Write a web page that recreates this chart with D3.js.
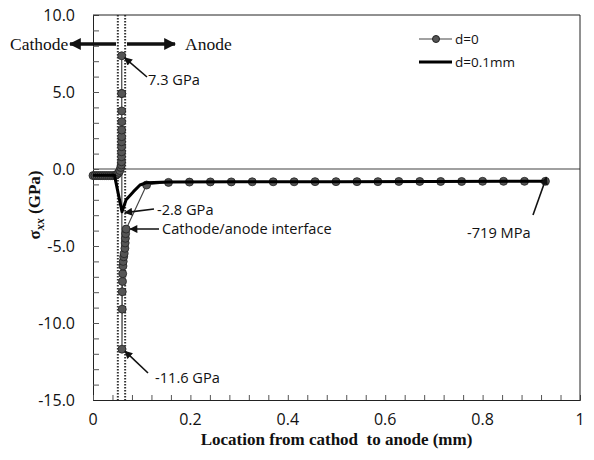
<!DOCTYPE html>
<html><head><meta charset="utf-8">
<script src="https://cdn.jsdelivr.net/npm/d3@7"></script>
<style>body{margin:0;background:#fff}svg{display:block}</style>
</head><body>
<script>
// ---- data ----
const seriesNames = ["d=0", "d=0.1mm"];
const d0X = [0.000,0.004,0.008,0.012,0.016,0.020,0.024,0.028,0.032,0.036,0.040,0.044,
  0.047,0.050,0.053,0.055,0.057,0.058,0.0585,0.0586,0.0587,0.0588,0.0588,0.0589,0.0589,0.059,0.059,0.059,0.059,0.059,
  0.0595,0.060,0.060,0.0605,0.061,0.0615,0.062,0.063,0.064,0.0655,0.066,0.0665,0.067,0.068,
  0.110,0.155,0.198,0.241,0.284,0.327,0.370,0.413,0.456,0.499,0.542,0.585,0.628,0.671,0.714,0.757,0.800,0.843,0.886,0.929];
const d0Y = [-0.43,-0.43,-0.43,-0.43,-0.43,-0.43,-0.43,-0.43,-0.43,-0.43,-0.43,-0.43,
  -0.40,-0.33,-0.22,-0.10,0.10,0.26,0.47,0.80,1.12,1.45,1.77,2.10,2.53,3.07,3.77,4.90,4.90,7.35,
  -11.7,-9.1,-7.97,-7.3,-6.8,-6.3,-6.0,-5.7,-5.5,-5.15,-4.8,-4.5,-4.2,-3.9,
  -1.04,-0.87,-0.85,-0.84,-0.84,-0.83,-0.83,-0.83,-0.82,-0.82,-0.82,-0.82,-0.81,-0.81,-0.81,-0.81,-0.80,-0.80,-0.80,-0.80];
const d01X = [0.000,0.044,0.0595,0.068,0.083,0.0965,0.110,0.155,0.300,0.500,0.700,0.929];
const d01Y = [-0.40,-0.40,-2.77,-2.00,-1.47,-1.04,-0.89,-0.85,-0.83,-0.82,-0.81,-0.79];
const xTickLabels = [0,0.2,0.4,0.6,0.8,1];
const yTickLabels = [-15,-10,-5,0,5,10];
const interfaceX = [0.051,0.066];
const annotations = [
  {text:"7.3 GPa", x:0.059, y:7.35},
  {text:"-2.8 GPa", x:0.0595, y:-2.77},
  {text:"Cathode/anode interface", x:0.066, y:-3.9},
  {text:"-11.6 GPa", x:0.0595, y:-11.7},
  {text:"-719 MPa", x:0.929, y:-0.80}
];

// ---- layout ----
const W=594,H=460;
const L=93,R=580,T=15,B=400;
const svg=d3.select("body").append("svg").attr("width",W).attr("height",H);
const x=d3.scaleLinear().domain([0,1]).range([L,R]);
const y=d3.scaleLinear().domain([-15,10]).range([B,T]);
const sans="'Open Sans', Lato, sans-serif";
const serif="'Liberation Serif','DejaVu Serif',serif";

const defs=svg.append("defs");
function marker(id,w,h){
  defs.append("marker").attr("id",id).attr("viewBox","0 0 10 10").attr("refX",9).attr("refY",5)
   .attr("markerWidth",w).attr("markerHeight",h).attr("orient","auto").attr("markerUnits","userSpaceOnUse")
   .append("path").attr("d","M0,0L10,5L0,10z").attr("fill","#111");
}
marker("ah",9,8);
marker("big",12,13);

// zero line
svg.append("line").attr("x1",L).attr("x2",R).attr("y1",y(0)).attr("y2",y(0))
  .attr("stroke","#808080").attr("stroke-width",1.5);

// interface dotted lines
interfaceX.forEach(v=>{
  svg.append("line").attr("x1",x(v)).attr("x2",x(v)).attr("y1",T).attr("y2",B)
   .attr("stroke","#333").attr("stroke-width",2).attr("stroke-dasharray","1.5,1.5");
});

// axes
const yAx=d3.axisLeft(y).tickValues(d3.range(-15,10.01,1)).tickSize(-6).tickFormat("");
svg.append("g").attr("transform",`translate(${L},0)`).call(yAx)
  .call(g=>{g.select(".domain").attr("stroke","#222");g.selectAll("line").attr("stroke","#555");});
const xAx=d3.axisBottom(x).tickValues(d3.range(0,1.001,0.04)).tickSize(-5).tickFormat("");
svg.append("g").attr("transform",`translate(0,${B})`).call(xAx)
  .call(g=>{g.select(".domain").attr("stroke","#222");g.selectAll("line").attr("stroke","#555");});
// frame
svg.append("line").attr("x1",L).attr("x2",R).attr("y1",T).attr("y2",T).attr("stroke","#222");
svg.append("line").attr("x1",R).attr("x2",R).attr("y1",T).attr("y2",B).attr("stroke","#222");

// tick labels
const fmt=d=>d3.format(".1f")(d).replace("\u2212","-");
svg.append("g").selectAll("text").data(yTickLabels).join("text")
  .attr("x",L-18).attr("y",d=>y(d)).attr("dy","0.35em").attr("text-anchor","end")
  .attr("font-family",sans).attr("font-size",16).attr("fill","#111").text(fmt);
svg.append("g").selectAll("text").data(xTickLabels).join("text")
  .attr("x",d=>x(d)).attr("y",B+19).attr("dy","0.35em").attr("text-anchor","middle")
  .attr("font-family",sans).attr("font-size",16).attr("fill","#111").text(d=>String(d));

// axis titles
svg.append("text").attr("x",(L+R)/2).attr("y",445).attr("text-anchor","middle")
  .attr("font-family",serif).attr("font-weight","bold").attr("font-size",17).attr("fill","#111")
  .style("white-space","pre")
  .text("Location from cathod  to anode (mm)");
const yt=svg.append("text").attr("transform","translate(40,205) rotate(-90)").attr("text-anchor","middle")
  .attr("font-family",serif).attr("font-weight","bold").attr("font-size",17).attr("fill","#111");
yt.append("tspan").text("σ");
yt.append("tspan").attr("font-style","italic").attr("font-size",12).attr("dy",4).text("xx");
yt.append("tspan").attr("dy",-4).text(" (GPa)");

// series
const ptsD0=d0X.map((v,i)=>[v,d0Y[i]]);
const ptsD01=d01X.map((v,i)=>[v,d01Y[i]]);
const line=d3.line().x(d=>x(d[0])).y(d=>y(d[1]));
svg.append("path").attr("d",line(ptsD0)).attr("fill","none").attr("stroke","#444").attr("stroke-width",1.2);
svg.append("g").selectAll("circle").data(ptsD0).join("circle")
  .attr("cx",d=>x(d[0])).attr("cy",d=>y(d[1])).attr("r",4)
  .attr("fill","#555").attr("stroke","#222").attr("stroke-width",0.8);
svg.append("path").attr("d",line(ptsD01)).attr("fill","none").attr("stroke","#000").attr("stroke-width",3)
  .attr("stroke-linejoin","round");

// legend
svg.append("line").attr("x1",419).attr("x2",452).attr("y1",39).attr("y2",39).attr("stroke","#444").attr("stroke-width",1.2);
svg.append("circle").attr("cx",436).attr("cy",39).attr("r",3.5).attr("fill","#555").attr("stroke","#222");
svg.append("line").attr("x1",419).attr("x2",452).attr("y1",62).attr("y2",62).attr("stroke","#000").attr("stroke-width",3);
svg.append("g").selectAll("text").data(seriesNames).join("text")
  .attr("x",455).attr("y",(d,i)=>39+i*23).attr("dy","0.35em")
  .attr("font-family",sans).attr("font-size",13.5).attr("fill","#111").text(d=>d);

// cathode / anode labels
svg.append("text").attr("x",10).attr("y",44).attr("dy","0.35em").attr("font-family",serif)
  .attr("font-size",17.5).attr("fill","#111").text("Cathode");
svg.append("text").attr("x",185).attr("y",44).attr("dy","0.35em").attr("font-family",serif)
  .attr("font-size",17.5).attr("fill","#111").text("Anode");
svg.append("line").attr("x1",116).attr("x2",70).attr("y1",44).attr("y2",44).attr("stroke","#111")
  .attr("stroke-width",3.5).attr("marker-end","url(#big)");
svg.append("line").attr("x1",127).attr("x2",175).attr("y1",44).attr("y2",44).attr("stroke","#111")
  .attr("stroke-width",3.5).attr("marker-end","url(#big)");

// annotations
const annPos=[
  {tx:148,ty:80,x1:147,y1:77,dx:3,dy:2},
  {tx:157,ty:210,x1:154,y1:209,dx:3,dy:1},
  {tx:162,ty:229,x1:159,y1:229,dx:5,dy:0},
  {tx:155,ty:378,x1:148,y1:373,dx:3,dy:2},
  {tx:467,ty:233,x1:533,y1:215,dx:1,dy:-4}
];
annotations.forEach((a,i)=>{
  const p=annPos[i];
  svg.append("text").attr("x",p.tx).attr("y",p.ty).attr("dy","0.35em").attr("font-family",sans)
    .attr("font-size",14.6).attr("fill","#111").text(a.text);
  svg.append("line").attr("x1",p.x1).attr("y1",p.y1).attr("x2",x(a.x)+p.dx).attr("y2",y(a.y)+p.dy)
    .attr("stroke","#111").attr("stroke-width",1.6).attr("marker-end","url(#ah)");
});
</script>
</body></html>
